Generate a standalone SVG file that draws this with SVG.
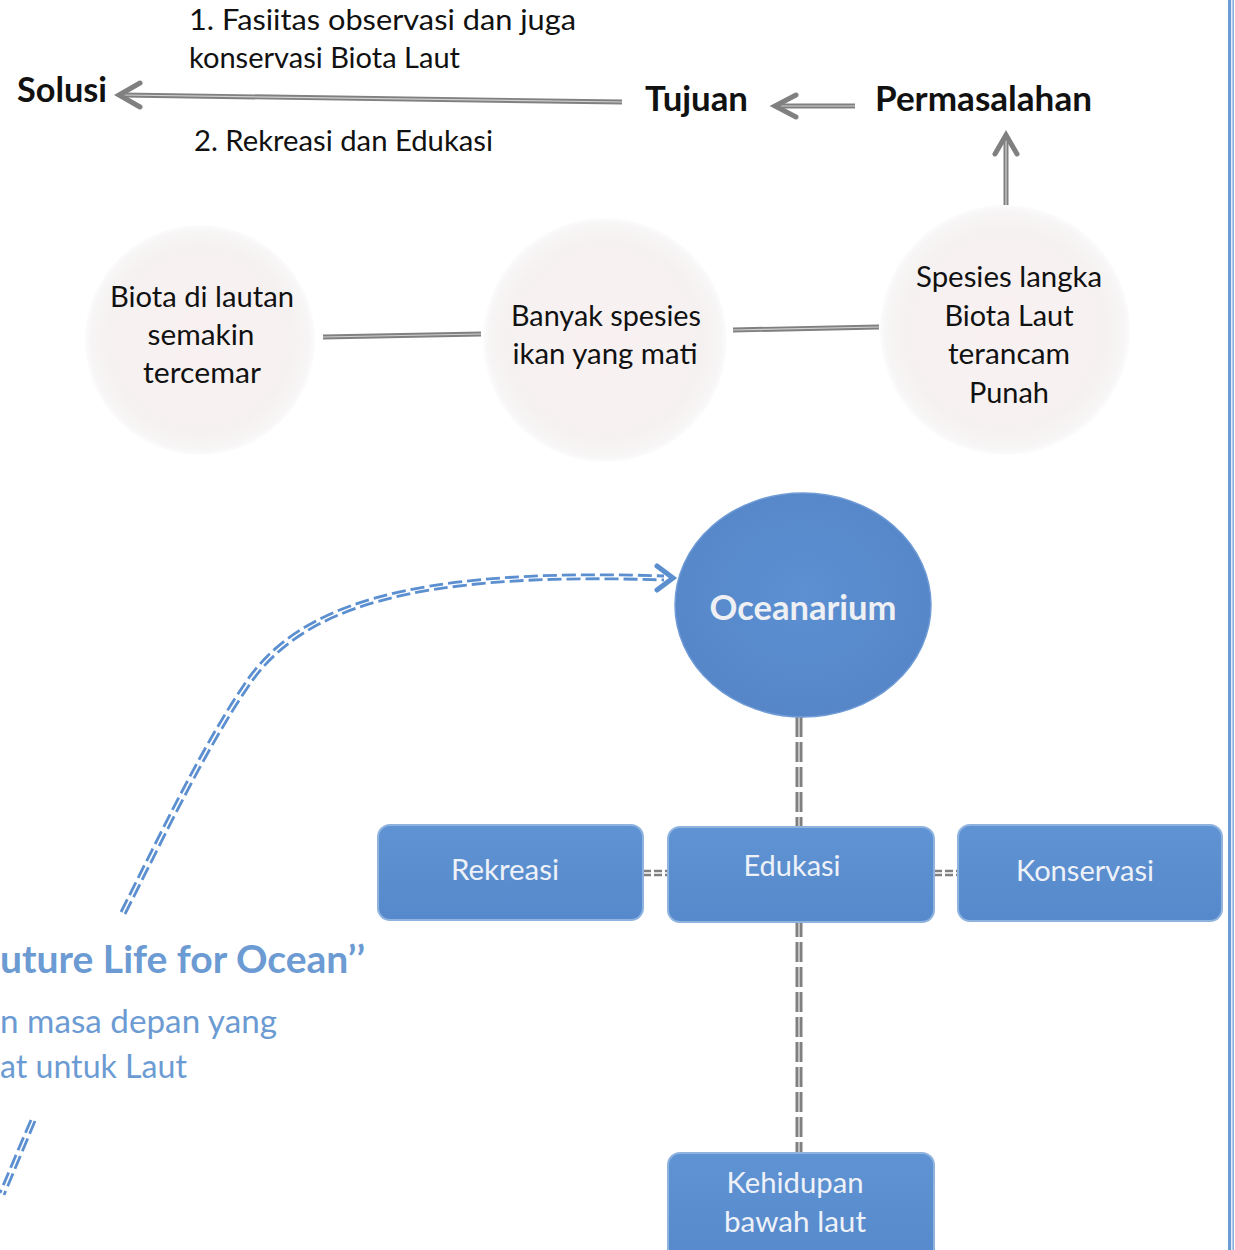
<svg xmlns="http://www.w3.org/2000/svg" width="1235" height="1250" viewBox="0 0 1235 1250">
<style>
text{font-family:Lato,"Liberation Sans",sans-serif}
.lbl{font-size:28px;fill:#111}
.head{font-size:34px;font-weight:bold;fill:#111}
.ctext{font-size:29px;fill:#111;text-anchor:middle}
.btext{font-size:29px;fill:#eef2f8;text-anchor:middle}
.otext{font-size:34px;font-weight:bold;fill:#eef0f4;text-anchor:middle}
.blue1{font-size:38px;font-weight:bold;fill:#6b9bd2}
.blue2{font-size:33px;fill:#6b9bd2}
.gl{stroke:#808080;stroke-width:5;fill:none}
.gi{stroke:#d0d0d0;stroke-width:1.2;fill:none}
.chev{stroke:#808080;stroke-width:5;fill:none;stroke-linecap:round;stroke-linejoin:miter}
.vd{stroke:#808080;stroke-width:3;stroke-dasharray:20 5;fill:none}
.bd{stroke:#5b8fd0;stroke-width:2.8;stroke-dasharray:14 5;fill:none}
.box{fill:url(#bg);stroke:#8fb3df;stroke-width:2}
.circ{fill:url(#cg)}
</style>
<defs>
<radialGradient id="cg" cx="50%" cy="50%" r="50%">
<stop offset="0" stop-color="#f9f1f1"/>
<stop offset="0.8" stop-color="#f6f1f1"/>
<stop offset="0.95" stop-color="#f7f5f5"/>
<stop offset="1" stop-color="#fcfcfc"/>
</radialGradient>
<linearGradient id="bg" x1="0" y1="0" x2="0" y2="1">
<stop offset="0" stop-color="#5f93d3"/>
<stop offset="1" stop-color="#5689cb"/>
</linearGradient>
<radialGradient id="og" cx="50%" cy="45%" r="55%">
<stop offset="0" stop-color="#5b90d2"/>
<stop offset="1" stop-color="#5686c8"/>
</radialGradient>
</defs>

<!-- right border -->
<rect x="1228" y="0" width="3.2" height="1250" fill="#6a9bd4"/>
<rect x="1232.5" y="0" width="1.3" height="1250" fill="#6a9bd4"/>

<g id="connectors">
<!-- Tujuan -> Solusi -->
<line class="gl" x1="622" y1="102" x2="122" y2="95"/>
<line class="gi" x1="622" y1="102" x2="122" y2="95"/>
<polyline class="chev" points="140,83 119,95 140,107"/>
<!-- Permasalahan -> Tujuan -->
<line class="gl" x1="855" y1="106" x2="776" y2="106"/>
<line class="gi" x1="855" y1="106" x2="776" y2="106"/>
<polyline class="chev" points="796,95 775,106 796,117"/>
<!-- circle3 -> Permasalahan -->
<line class="gl" x1="1006" y1="208" x2="1006" y2="136"/>
<line class="gi" x1="1006" y1="208" x2="1006" y2="136"/>
<polyline class="chev" points="995,154 1006,135 1017,154"/>
<!-- circle links -->
<line class="gl" x1="323" y1="337" x2="481" y2="334"/>
<line class="gi" x1="323" y1="337" x2="481" y2="334"/>
<line class="gl" x1="733" y1="330" x2="879" y2="327"/>
<line class="gi" x1="733" y1="330" x2="879" y2="327"/>
<!-- vertical dashed -->
<line class="vd" x1="797" y1="717" x2="797" y2="1153"/>
<line class="vd" x1="801" y1="717" x2="801" y2="1153"/>
<!-- box connectors -->
<line x1="643" y1="871" x2="668" y2="871" stroke="#808080" stroke-width="2.5" stroke-dasharray="8 3"/>
<line x1="643" y1="875" x2="668" y2="875" stroke="#808080" stroke-width="2.5" stroke-dasharray="8 3"/>
<line x1="934" y1="871" x2="958" y2="871" stroke="#808080" stroke-width="2.5" stroke-dasharray="8 3"/>
<line x1="934" y1="875" x2="958" y2="875" stroke="#808080" stroke-width="2.5" stroke-dasharray="8 3"/>
<!-- blue curved dashed arrow -->
<path class="bd" d="M121,912 C163,829 203,744 248,679 C298,609 400,567 664,576"/>
<path class="bd" d="M125,914 C167,831 207,746 252,681 C302,612 402,571 664,580"/>
<polyline points="657,566 673,578 657,590" fill="none" stroke="#5b8fd0" stroke-width="5" stroke-linecap="round"/>
<!-- lower-left dashed fragment -->
<path class="bd" d="M31,1120 Q18,1150 0,1193"/>
<path class="bd" d="M35,1121 Q22,1152 4,1195"/>
</g>

<g id="labels">
<text class="lbl" x="189" y="30" textLength="387" lengthAdjust="spacingAndGlyphs">1. Fasiitas observasi dan juga</text>
<text class="lbl" x="189" y="68" textLength="271" lengthAdjust="spacingAndGlyphs">konservasi Biota Laut</text>
<text class="lbl" x="194" y="151" textLength="299" lengthAdjust="spacingAndGlyphs">2. Rekreasi dan Edukasi</text>
</g>

<g id="solusi"><text class="head" x="17" y="102" textLength="90" lengthAdjust="spacingAndGlyphs">Solusi</text></g>
<g id="tujuan"><text class="head" x="645" y="111" textLength="103" lengthAdjust="spacingAndGlyphs">Tujuan</text></g>
<g id="permasalahan"><text class="head" x="875" y="111" textLength="217" lengthAdjust="spacingAndGlyphs">Permasalahan</text></g>

<g id="circle1">
<circle class="circ" cx="200" cy="340" r="115"/>
<text class="ctext" x="202" y="307" textLength="184" lengthAdjust="spacingAndGlyphs">Biota di lautan</text>
<text class="ctext" x="201" y="345" textLength="107" lengthAdjust="spacingAndGlyphs">semakin</text>
<text class="ctext" x="202" y="383" textLength="118" lengthAdjust="spacingAndGlyphs">tercemar</text>
</g>
<g id="circle2">
<circle class="circ" cx="605" cy="340" r="122"/>
<text class="ctext" x="606" y="326" textLength="190" lengthAdjust="spacingAndGlyphs">Banyak spesies</text>
<text class="ctext" x="605" y="364" textLength="185" lengthAdjust="spacingAndGlyphs">ikan yang mati</text>
</g>
<g id="circle3">
<circle class="circ" cx="1005" cy="330" r="125"/>
<text class="ctext" x="1009" y="287" textLength="186" lengthAdjust="spacingAndGlyphs">Spesies langka</text>
<text class="ctext" x="1009" y="326" textLength="129" lengthAdjust="spacingAndGlyphs">Biota Laut</text>
<text class="ctext" x="1009" y="364" textLength="122" lengthAdjust="spacingAndGlyphs">terancam</text>
<text class="ctext" x="1009" y="403" textLength="80" lengthAdjust="spacingAndGlyphs">Punah</text>
</g>

<g id="oceanarium">
<ellipse cx="803" cy="605" rx="128" ry="112" fill="url(#og)" stroke="#6f9bd6" stroke-width="1.5"/>
<text class="otext" x="803" y="620" textLength="187" lengthAdjust="spacingAndGlyphs">Oceanarium</text>
</g>

<g id="rekreasi">
<rect class="box" x="378" y="825" width="265" height="95" rx="12"/>
<text class="btext" x="505" y="880" textLength="108" lengthAdjust="spacingAndGlyphs">Rekreasi</text>
</g>
<g id="edukasi">
<rect class="box" x="668" y="827" width="266" height="95" rx="12"/>
<text class="btext" x="792" y="876" textLength="97" lengthAdjust="spacingAndGlyphs">Edukasi</text>
</g>
<g id="konservasi">
<rect class="box" x="958" y="825" width="264" height="96" rx="12"/>
<text class="btext" x="1085" y="881" textLength="138" lengthAdjust="spacingAndGlyphs">Konservasi</text>
</g>
<g id="kehidupan">
<rect class="box" x="668" y="1153" width="266" height="110" rx="12"/>
<text class="btext" x="795" y="1193" textLength="137" lengthAdjust="spacingAndGlyphs">Kehidupan</text>
<text class="btext" x="795" y="1232" textLength="142" lengthAdjust="spacingAndGlyphs">bawah laut</text>
</g>

<g id="tagline">
<text class="blue1" x="0" y="973" textLength="365" lengthAdjust="spacingAndGlyphs">uture Life for Ocean’’</text>
<text class="blue2" x="0" y="1033" textLength="277" lengthAdjust="spacingAndGlyphs">n masa depan yang</text>
<text class="blue2" x="0" y="1078" textLength="187" lengthAdjust="spacingAndGlyphs">at untuk Laut</text>
</g>
</svg>
